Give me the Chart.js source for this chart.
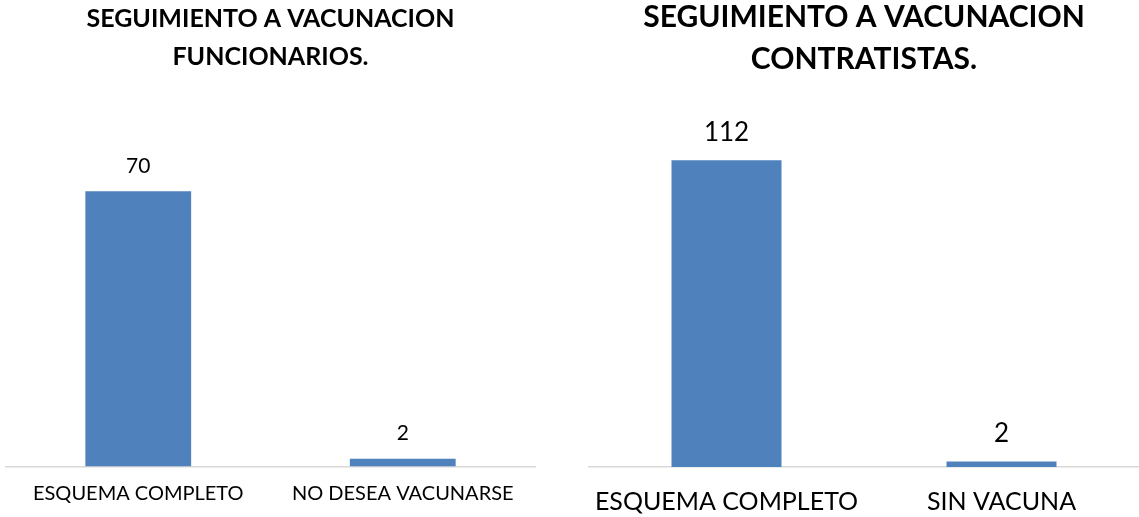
<!DOCTYPE html>
<html>
<head>
<meta charset="utf-8">
<script src="https://cdn.jsdelivr.net/npm/chart.js@4.4.0/dist/chart.umd.min.js"></script>
<style>
  html, body { margin: 0; padding: 0; background: #ffffff; }
  #wrap { position: relative; width: 1139px; height: 517px; overflow: hidden; }
  .panel { position: absolute; top: 0; height: 517px; }
  #p1 { left: 0; width: 570px; }
  #p2 { left: 570px; width: 569px; }
</style>
</head>
<body>
<div id="wrap">
  <div class="panel" id="p1"><canvas id="c1"></canvas></div>
  <div class="panel" id="p2"><canvas id="c2"></canvas></div>
</div>
<script>
// ---- data ----
const titleFuncionarios = ["SEGUIMIENTO A VACUNACION", "FUNCIONARIOS."];
const catsFuncionarios = ["ESQUEMA COMPLETO", "NO DESEA VACUNARSE"];
const valsFuncionarios = [70, 2];

const titleContratistas = ["SEGUIMIENTO A VACUNACION", "CONTRATISTAS."];
const catsContratistas = ["ESQUEMA COMPLETO", "SIN VACUNA"];
const valsContratistas = [112, 2];

const BAR_COLOR = '#4f81bd';
const FONT = "Lato, 'Open Sans', sans-serif";

const valueLabels = {
  id: 'valueLabels',
  afterDatasetsDraw(chart, args, opts) {
    const ctx = chart.ctx;
    const meta = chart.getDatasetMeta(0);
    ctx.save();
    ctx.font = opts.size + 'px ' + FONT;
    ctx.fillStyle = '#000000';
    ctx.textAlign = 'center';
    ctx.textBaseline = 'middle';
    meta.data.forEach((bar, i) => {
      const v = chart.data.datasets[0].data[i];
      ctx.fillText(String(v), bar.x, bar.y - opts.offset);
    });
    ctx.restore();
  }
};

function makeChart(id, title, cats, vals, cfg) {
  return new Chart(document.getElementById(id), {
    type: 'bar',
    data: {
      labels: cats,
      datasets: [{
        data: vals,
        backgroundColor: BAR_COLOR,
        borderWidth: 0,
        categoryPercentage: 1.0,
        barPercentage: 0.4
      }]
    },
    options: {
      responsive: true,
      maintainAspectRatio: false,
      animation: false,
      layout: { padding: cfg.padding },
      plugins: {
        legend: { display: false },
        tooltip: { enabled: false },
        title: {
          display: true,
          text: title,
          fullSize: false,
          color: '#000000',
          font: { family: FONT, size: cfg.titleSize, weight: 'bold', lineHeight: cfg.titleLH },
          padding: cfg.titlePad
        },
        valueLabels: { size: cfg.valSize, offset: cfg.valOffset }
      },
      scales: {
        x: {
          grid: { display: false, drawTicks: false },
          border: { display: true, color: '#d9d9d9', width: 1.5 },
          ticks: {
            color: '#000000',
            padding: cfg.tickPad,
            maxRotation: 0,
            autoSkip: false,
            font: { family: FONT, size: cfg.tickSize }
          }
        },
        y: {
          display: false,
          min: 0,
          max: cfg.ymax
        }
      }
    },
    plugins: [valueLabels]
  });
}

makeChart('c1', titleFuncionarios, catsFuncionarios, valsFuncionarios, {
  padding: { left: 6, right: 35, top: 0, bottom: -4.5 },
  titleSize: 25, titleLH: 1.52, titlePad: { top: 0, bottom: 17 },
  valSize: 21, valOffset: 25,
  tickSize: 20, tickPad: 15.5,
  ymax: 95
});

makeChart('c2', titleContratistas, catsContratistas, valsContratistas, {
  padding: { left: 19, right: 0, top: 0, bottom: -19 },
  titleSize: 30, titleLH: 1.4, titlePad: { top: -4, bottom: 31 },
  valSize: 26, valOffset: 28,
  tickSize: 25, tickPad: 19.5,
  ymax: 130
});
</script>
</body>
</html>
